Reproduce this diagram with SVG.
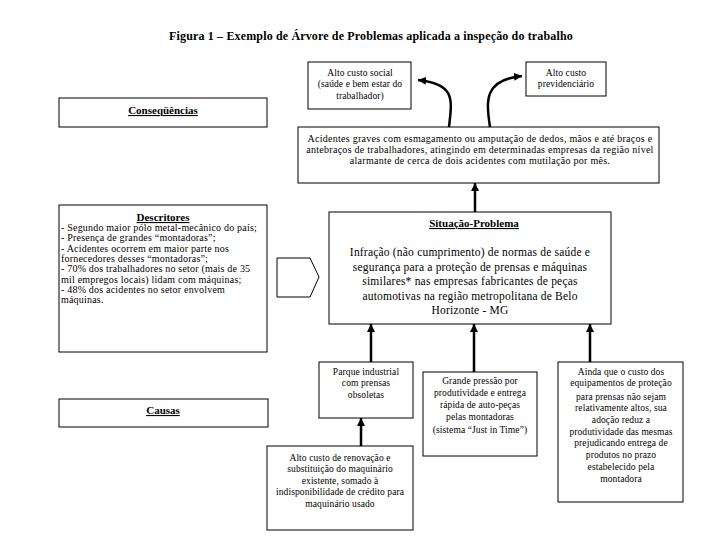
<svg xmlns="http://www.w3.org/2000/svg" width="720" height="540" viewBox="0 0 720 540">
<style>
text{font-family:'Liberation Serif','Tinos','DejaVu Serif',serif;fill:#000}
.box{fill:#fff;stroke:#000;stroke-width:1}
.t{font-size:9.5px;text-anchor:middle;letter-spacing:0.1px}
.tl{font-size:10px;letter-spacing:0.2px}
.acc{font-size:10px;text-anchor:middle;letter-spacing:0.27px}
.sit{font-size:11.5px;text-anchor:middle;letter-spacing:0.2px}
.hd{font-size:11px;font-weight:bold;text-anchor:middle;text-decoration:underline}
.title{font-size:12px;font-weight:bold;text-anchor:middle;letter-spacing:0.15px}
.con{fill:none;stroke:#000;stroke-width:2.5}
</style>
<defs>
<marker id="ah" markerUnits="userSpaceOnUse" markerWidth="9" markerHeight="8" refX="8" refY="4" orient="auto">
<path d="M0,0 L8,4 L0,8 z" fill="#000"/>
</marker>
</defs>
<rect width="720" height="540" fill="#fff"/>
<text class="title" x="371" y="40">Figura 1 – Exemplo de Árvore de Problemas aplicada a inspeção do trabalho</text>

<g id="social">
<rect class="box" x="308" y="62" width="103" height="47"/>
<text class="t" x="360" y="76">Alto custo social</text>
<text class="t" x="360" y="87">(saúde e bem estar do</text>
<text class="t" x="360" y="99">trabalhador)</text>
</g>
<g id="previdenciario">
<rect class="box" x="526" y="62" width="80" height="34"/>
<text class="t" x="566" y="76">Alto custo</text>
<text class="t" x="566" y="87">previdenciário</text>
</g>
<g id="consequencias">
<rect class="box" x="59" y="98" width="208" height="29"/>
<text class="hd" x="163" y="114">Conseqüências</text>
</g>
<g id="acidentes">
<rect class="box" x="298" y="127" width="361" height="56"/>
<text class="acc" x="480" y="142">Acidentes graves com esmagamento ou amputação de dedos, mãos e até braços e</text>
<text class="acc" x="480" y="153">antebraços de trabalhadores, atingindo em determinadas empresas da região nível</text>
<text class="acc" x="480" y="164">alarmante de cerca de dois acidentes com mutilação por mês.</text>
</g>
<g id="descritores">
<rect class="box" x="59" y="205" width="208" height="147"/>
<text class="hd" x="163" y="221">Descritores</text>
<text class="tl" x="61" y="231">- Segundo maior pólo metal-mecânico do país;</text>
<text class="tl" x="61" y="241">- Presença de grandes “montadoras”;</text>
<text class="tl" x="61" y="252">- Acidentes ocorrem em maior parte nos</text>
<text class="tl" x="61" y="262">fornecedores desses “montadoras”;</text>
<text class="tl" x="61" y="272">- 70% dos trabalhadores no setor (mais de 35</text>
<text class="tl" x="61" y="283">mil empregos locais) lidam com máquinas;</text>
<text class="tl" x="61" y="293">- 48% dos acidentes no setor envolvem</text>
<text class="tl" x="61" y="303">máquinas.</text>
</g>
<g id="seta">
<path d="M277,258 L310,258 L319,277 L310,297 L277,297 Z" fill="#fff" stroke="#000" stroke-width="1"/>
</g>
<g id="situacao">
<rect class="box" x="329" y="212" width="282" height="112"/>
<text class="hd" x="474" y="227">Situação-Problema</text>
<text class="sit" x="470" y="256">Infração (não cumprimento) de normas de saúde e</text>
<text class="sit" x="470" y="271">segurança para a proteção de prensas e máquinas</text>
<text class="sit" x="470" y="285">similares* nas empresas fabricantes de peças</text>
<text class="sit" x="470" y="300">automotivas na região metropolitana de Belo</text>
<text class="sit" x="470" y="314">Horizonte - MG</text>
</g>
<g id="causas">
<rect class="box" x="59" y="399" width="209" height="28"/>
<text class="hd" x="163" y="414">Causas</text>
</g>
<g id="parque">
<rect class="box" x="319" y="362" width="94" height="56"/>
<text class="t" x="366" y="375">Parque industrial</text>
<text class="t" x="366" y="386">com prensas</text>
<text class="t" x="366" y="398">obsoletas</text>
</g>
<g id="pressao">
<rect class="box" x="423" y="372" width="114" height="84"/>
<text class="t" x="480" y="384">Grande pressão por</text>
<text class="t" x="480" y="396">produtividade e entrega</text>
<text class="t" x="480" y="408">rápida de auto-peças</text>
<text class="t" x="480" y="420">pelas montadoras</text>
<text class="t" x="480" y="433">(sistema “Just in Time”)</text>
</g>
<g id="ainda">
<rect class="box" x="558" y="362" width="125" height="140"/>
<text class="t" x="621" y="375">Ainda que o custo dos</text>
<text class="t" x="621" y="386">equipamentos de proteção</text>
<text class="t" x="621" y="400">para prensas não sejam</text>
<text class="t" x="621" y="411">relativamente altos, sua</text>
<text class="t" x="621" y="423">adoção reduz a</text>
<text class="t" x="621" y="435">produtividade das mesmas</text>
<text class="t" x="621" y="446">prejudicando entrega de</text>
<text class="t" x="621" y="458">produtos no prazo</text>
<text class="t" x="621" y="470">estabelecido pela</text>
<text class="t" x="621" y="482">montadora</text>
</g>
<g id="renovacao">
<rect class="box" x="267" y="446" width="146" height="84"/>
<text class="t" x="340" y="461">Alto custo de renovação e</text>
<text class="t" x="340" y="472">substituição do maquinário</text>
<text class="t" x="340" y="484">existente, somado à</text>
<text class="t" x="340" y="495">indisponibilidade de crédito para</text>
<text class="t" x="340" y="507">maquinário usado</text>
</g>
<g id="connectors">
<path class="con" d="M449,127 C452,100 456,84 418,80" marker-end="url(#ah)"/>
<path class="con" d="M490,127 C486,100 484,80 522,76" marker-end="url(#ah)"/>
<path class="con" d="M475,212 L475,183" marker-end="url(#ah)"/>
<path class="con" d="M371,362 L371,324" marker-end="url(#ah)"/>
<path class="con" d="M474,372 L474,324" marker-end="url(#ah)"/>
<path class="con" d="M590,362 L590,324" marker-end="url(#ah)"/>
<path class="con" d="M361,446 L361,418" marker-end="url(#ah)"/>
</g>
</svg>
